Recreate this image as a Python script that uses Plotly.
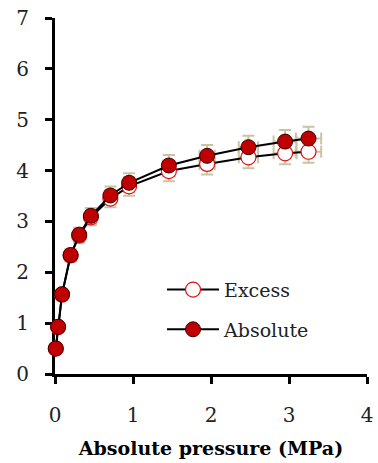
import plotly.graph_objects as go

pressure = [0.01, 0.04, 0.09, 0.20, 0.31, 0.46, 0.71, 0.95, 1.46, 1.95, 2.48, 2.95, 3.25]
absolute = [0.50, 0.93, 1.57, 2.34, 2.74, 3.11, 3.51, 3.76, 4.10, 4.29, 4.46, 4.57, 4.63]
excess = [0.50, 0.92, 1.56, 2.33, 2.72, 3.08, 3.45, 3.69, 3.99, 4.13, 4.26, 4.34, 4.37]
err_pct = 5

FONT = "DejaVu Serif"
ERR_COL = "#cdc3a3"

fig = go.Figure()
for ys in (excess, absolute):
    fig.add_trace(go.Scatter(
        x=pressure, y=ys, mode="markers", showlegend=False, hoverinfo="skip",
        marker=dict(size=1, color="rgba(0,0,0,0)"),
        error_y=dict(type="percent", value=err_pct, color=ERR_COL, thickness=2, width=6),
        error_x=dict(type="percent", value=err_pct, color=ERR_COL, thickness=2, width=6),
        cliponaxis=False,
    ))

fig.add_trace(go.Scatter(
    x=pressure, y=excess, mode="lines+markers", name="Excess", legendgroup="a",
    line=dict(color="black", width=2),
    marker=dict(size=15, color="white", line=dict(color="#e01010", width=1.2)),
    cliponaxis=False,
))
fig.add_trace(go.Scatter(
    x=pressure, y=absolute, mode="lines+markers", name="Absolute", legendgroup="b",
    line=dict(color="black", width=2),
    marker=dict(size=15, color="#c00000", line=dict(color="#3a0000", width=1)),
    cliponaxis=False,
))

axis_common = dict(
    showline=True, linecolor="black", linewidth=3,
    ticks="outside", tickcolor="black", tickwidth=3, ticklen=7,
    showgrid=False, zeroline=False, layer="below traces", automargin=False,
    tickfont=dict(family=FONT, size=20, color="#222"),
)

fig.update_layout(
    width=378, height=463,
    margin=dict(l=55, r=11, t=18, b=89),
    paper_bgcolor="white", plot_bgcolor="white",
    xaxis=dict(range=[0, 4], dtick=1, ticklabelstandoff=14,
               title=dict(text="<b>Absolute pressure (MPa)</b>", standoff=16,
                          font=dict(family=FONT, size=19, color="black")),
               **axis_common),
    yaxis=dict(range=[0, 7], dtick=1, ticklabelstandoff=12, **axis_common),
    legend=dict(x=0.343, y=0.29, xanchor="left", yanchor="top",
                font=dict(family=FONT, size=19, color="#222"),
                itemwidth=52, tracegroupgap=12, traceorder="grouped",
                bgcolor="rgba(0,0,0,0)"),
)

fig.write_html("out.html")
